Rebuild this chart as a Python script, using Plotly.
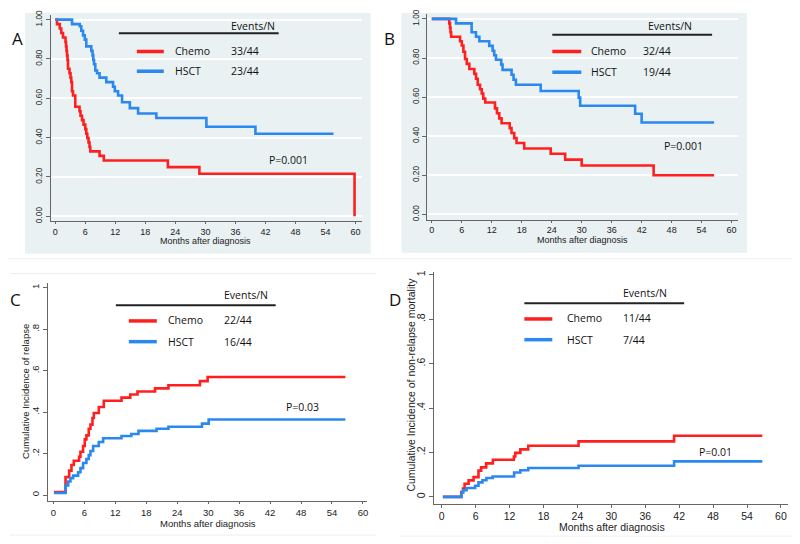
import plotly.graph_objects as go

# the page body has an 8px margin, so the figure is laid out in page pixels shifted by OFF
OFF = 8
W, H = 792, 536

# ---- data (months, probability) ----
months_ticks = [0, 6, 12, 18, 24, 30, 36, 42, 48, 54, 60]

# A: overall survival
a_chemo_t = [0, 0.35, 0.9, 1.2, 1.55, 2.05, 2.15, 2.25, 2.35, 2.45, 2.55, 2.85, 3.05, 3.2, 3.35, 3.55,
             4.0, 4.85, 5.05, 5.35, 5.65, 6.0, 6.2, 6.4, 6.65, 6.85, 7.0, 8.85, 9.7, 22.5, 28.8, 59.8]
a_chemo_s = [1.0, 0.977, 0.955, 0.932, 0.909, 0.886, 0.864, 0.841, 0.818, 0.795, 0.75, 0.727, 0.705, 0.682,
             0.636, 0.614, 0.557, 0.534, 0.511, 0.489, 0.466, 0.443, 0.42, 0.398, 0.375, 0.352, 0.33, 0.307,
             0.284, 0.25, 0.216, 0.0]
a_hsct_t = [0, 3.35, 4.9, 5.2, 5.55, 5.9, 6.2, 7.2, 7.45, 7.6, 7.75, 8.0, 8.35, 8.85, 10.2, 11.55, 11.9,
            12.55, 13.35, 14.9, 16.55, 20.2, 30.2, 40.0, 55.6]
a_hsct_s = [1.0, 0.977, 0.966, 0.943, 0.92, 0.898, 0.864, 0.841, 0.818, 0.795, 0.773, 0.741, 0.727, 0.705,
            0.682, 0.659, 0.636, 0.614, 0.58, 0.55, 0.523, 0.5, 0.455, 0.42, 0.42]

# B: event-free survival
b_chemo_t = [0, 3.5, 3.65, 3.75, 3.87, 5.66, 6.0, 6.33, 6.66, 7.0, 7.52, 8.52, 8.86, 9.2, 9.66, 10.0, 10.3,
             10.7, 12.65, 13.05, 13.5, 13.97, 15.6, 15.96, 16.5, 16.96, 18.5, 23.8, 26.7, 30.0, 44.4, 56.5]
b_chemo_s = [1.0, 0.977, 0.955, 0.932, 0.909, 0.886, 0.864, 0.832, 0.795, 0.77, 0.744, 0.719, 0.694, 0.663,
             0.64, 0.618, 0.592, 0.572, 0.542, 0.517, 0.491, 0.466, 0.441, 0.416, 0.39, 0.365, 0.337, 0.31,
             0.28, 0.25, 0.20, 0.20]
b_hsct_t = [0, 4.86, 7.98, 8.85, 9.52, 11.5, 12.18, 12.5, 12.85, 13.9, 14.17, 15.97, 16.37, 16.84, 21.8,
            29.4, 29.7, 40.7, 42.0, 56.5]
b_hsct_s = [1.0, 0.977, 0.932, 0.909, 0.886, 0.862, 0.837, 0.814, 0.791, 0.766, 0.739, 0.714, 0.689, 0.663,
            0.631, 0.597, 0.556, 0.515, 0.47, 0.47]

# C: cumulative incidence of relapse
c_chemo_t = [0.1, 2.35, 3.06, 3.5, 3.95, 4.98, 5.24, 5.75, 6.08, 6.4, 6.85, 7.18, 7.57, 7.83, 8.8, 9.77,
             13.2, 14.9, 16.3, 19.7, 22.3, 28.4, 29.9, 56.6]
c_chemo_s = [0.015, 0.087, 0.118, 0.145, 0.166, 0.185, 0.209, 0.237, 0.269, 0.288, 0.32, 0.34, 0.372, 0.396,
             0.425, 0.455, 0.47, 0.485, 0.5, 0.515, 0.53, 0.55, 0.57, 0.57]
c_hsct_t = [0.1, 2.35, 2.87, 3.3, 3.82, 4.79, 5.24, 5.75, 6.4, 6.85, 7.18, 7.7, 8.8, 9.64, 13.2, 15.1, 16.5,
            20.0, 22.3, 28.8, 30.1, 56.6]
c_hsct_s = [0.01, 0.047, 0.066, 0.082, 0.094, 0.11, 0.13, 0.155, 0.174, 0.193, 0.213, 0.237, 0.256, 0.274,
            0.285, 0.295, 0.31, 0.32, 0.33, 0.345, 0.365, 0.365]

# D: cumulative incidence of non-relapse mortality
d_chemo_t = [0.2, 3.45, 3.75, 4.04, 4.75, 5.63, 6.5, 6.97, 7.86, 9.04, 12.76, 13.0, 13.9, 15.3, 24.2, 41.1, 56.7]
d_chemo_s = [0.0, 0.022, 0.037, 0.059, 0.074, 0.089, 0.118, 0.133, 0.151, 0.167, 0.182, 0.198, 0.214, 0.23,
             0.25, 0.275, 0.275]
d_hsct_t = [0.2, 3.5, 3.8, 4.4, 5.9, 6.5, 7.2, 7.9, 9.0, 12.8, 13.9, 15.3, 24.2, 41.1, 56.7]
d_hsct_s = [0.0, 0.02, 0.03, 0.04, 0.05, 0.065, 0.075, 0.085, 0.092, 0.11, 0.12, 0.13, 0.14, 0.16, 0.16]

events = {'A': ('33/44', '23/44'), 'B': ('32/44', '19/44'), 'C': ('22/44', '16/44'), 'D': ('11/44', '7/44')}
pvalues = {'A': 'P=0.001', 'B': 'P=0.001', 'C': 'P=0.03', 'D': 'P=0.01'}

RED = '#ff1f1f'
BLUE = '#2b88ee'
AXC = '#666666'
TICKFONT = 'Liberation Sans, Arial, sans-serif'
LEGFONT = 'Open Sans, Noto Sans, sans-serif'


def px(x):
    return (x - OFF) / W


def py(y):
    return 1 - (y - OFF) / H


fig = go.Figure()

# panel geometry in page pixels: x-axis line (left, right), y-axis line (bottom, top), ranges, font sizes
panels = {
    'A': dict(ax='x', ay='y', xl=50.7, xr=362, yb=218.7, yt=10, xrange=[-0.92, 61.2], yrange=[-0.0236, 1.0236],
              fs=9, yfs=8.3, xtl=2, grid=True),
    'B': dict(ax='x2', ay='y2', xl=427.7, xr=739, yb=217.3, yt=9.5, xrange=[-0.92, 61.3], yrange=[-0.0268, 1.0227],
              fs=9, yfs=8.3, xtl=2, grid=True),
    'C': dict(ax='x3', ay='y3', xl=48.3, xr=367.7, yb=502.7, yt=282, xrange=[-1.0, 60.84], yrange=[-0.0295, 1.021],
              fs=9.5, yfs=9.5, xtl=2, grid=False),
    'D': dict(ax='x4', ay='y4', xl=435, xr=789.3, yb=505, yt=270, xrange=[-1.29, 61.3], yrange=[-0.03, 1.0148],
              fs=10.5, yfs=10.5, xtl=3, grid=False),
}

curves = {
    'A': ((a_chemo_t, a_chemo_s), (a_hsct_t, a_hsct_s)),
    'B': ((b_chemo_t, b_chemo_s), (b_hsct_t, b_hsct_s)),
    'C': ((c_chemo_t, c_chemo_s), (c_hsct_t, c_hsct_s)),
    'D': ((d_chemo_t, d_chemo_s), (d_hsct_t, d_hsct_s)),
}

for key, p in panels.items():
    (ct, cs), (ht, hs) = curves[key]
    fig.add_trace(go.Scatter(x=ct, y=cs, mode='lines', line=dict(color=RED, width=2.6, shape='hv'),
                             xaxis=p['ax'], yaxis=p['ay'], showlegend=False, hoverinfo='skip'))
    fig.add_trace(go.Scatter(x=ht, y=hs, mode='lines', line=dict(color=BLUE, width=2.6, shape='hv'),
                             xaxis=p['ax'], yaxis=p['ay'], showlegend=False, hoverinfo='skip'))

layout_axes = {}
for key, p in panels.items():
    xname = 'xaxis' + p['ax'][1:]
    yname = 'yaxis' + p['ay'][1:]
    layout_axes[xname] = dict(domain=[px(p['xl']), px(p['xr'])], range=p['xrange'], anchor=p['ay'],
                              showline=True, linecolor=AXC, linewidth=1, ticks='outside', ticklen=p['xtl'],
                              tickcolor=AXC, tickvals=months_ticks,
                              tickfont=dict(family=TICKFONT, size=p['fs'], color='#222'), showgrid=False,
                              zeroline=False, fixedrange=True)
    if p['grid']:
        yt = dict(tickvals=[0, 0.2, 0.4, 0.6, 0.8, 1.0], ticktext=['0.00', '0.20', '0.40', '0.60', '0.80', '1.00'])
    else:
        yt = dict(tickvals=[0, 0.2, 0.4, 0.6, 0.8, 1.0], ticktext=['0', '.2', '.4', '.6', '.8', '1'])
    layout_axes[yname] = dict(domain=[py(p['yb']), py(p['yt'])], range=p['yrange'], anchor=p['ax'],
                              showline=True, linecolor=AXC, linewidth=1, ticks='outside', ticklen=4,
                              tickcolor=AXC, tickfont=dict(family=TICKFONT, size=p['yfs'], color='#222'),
                              tickangle=-90, ticklabeloverflow='allow', showgrid=p['grid'],
                              gridcolor='white', gridwidth=1.6, zeroline=False, fixedrange=True, **yt)

shapes = [
    # Stata graph region backgrounds for A and B
    dict(type='rect', xref='paper', yref='paper', x0=px(25), x1=px(371), y0=py(252), y1=py(OFF),
         fillcolor='#eaf1f3', line=dict(width=0), layer='below'),
    dict(type='rect', xref='paper', yref='paper', x0=px(402), x1=px(748), y0=py(251), y1=py(OFF),
         fillcolor='#eaf1f3', line=dict(width=0), layer='below'),
    # faint separators
    dict(type='line', xref='paper', yref='paper', x0=px(OFF), x1=px(800), y0=py(257), y1=py(257),
         line=dict(color='#f0f0f0', width=1)),
    dict(type='line', xref='paper', yref='paper', x0=px(10), x1=px(377), y0=py(272), y1=py(272),
         line=dict(color='#eeeeee', width=1)),
    dict(type='line', xref='paper', yref='paper', x0=px(10), x1=px(377), y0=py(537), y1=py(537),
         line=dict(color='#eeeeee', width=1)),
    dict(type='line', xref='paper', yref='paper', x0=px(400), x1=px(800), y0=py(538), y1=py(538),
         line=dict(color='#f2f2f2', width=1)),
]

annotations = []

# hand-drawn legend tables: (black line x0, x1, y), (coloured line x0, x1), Events/N x, name x, count x,
# red y, blue y, events y, p-value (x, y), panel letter (left x, y)
legends = {
    'A': dict(bl=(119, 279, 28.5), cl=(137, 164), ex=229, nx=173, cx=229, ry=47, by=67, ey=21,
              p=(267, 157), letter=(10, 34)),
    'B': dict(bl=(553, 713, 30), cl=(553, 582), ex=647, nx=590, cx=642, ry=47, by=68, ey=21,
              p=(663, 143), letter=(382, 34)),
    'C': dict(bl=(116, 276, 304), cl=(129, 157), ex=222, nx=166, cx=222, ry=320, by=341, ey=294,
              p=(284, 407), letter=(8, 298)),
    'D': dict(bl=(525, 685, 302), cl=(525, 553), ex=622, nx=566, cx=622, ry=318, by=339, ey=292,
              p=(698, 453), letter=(387, 298)),
}

lf = dict(family=LEGFONT, size=10.5, color='#111')
for key, lg in legends.items():
    x0, x1, yb = lg['bl']
    shapes.append(dict(type='line', xref='paper', yref='paper', x0=px(x0), x1=px(x1), y0=py(yb), y1=py(yb),
                       line=dict(color='#222', width=2)))
    c0, c1 = lg['cl']
    shapes.append(dict(type='line', xref='paper', yref='paper', x0=px(c0), x1=px(c1), y0=py(lg['ry']),
                       y1=py(lg['ry']), line=dict(color=RED, width=3.5)))
    shapes.append(dict(type='line', xref='paper', yref='paper', x0=px(c0), x1=px(c1), y0=py(lg['by']),
                       y1=py(lg['by']), line=dict(color=BLUE, width=3.5)))
    texts = [('Events/N', lg['ex'], lg['ey']), ('Chemo', lg['nx'], lg['ry'] - 1),
             (events[key][0], lg['cx'], lg['ry'] - 1), ('HSCT', lg['nx'], lg['by']),
             (events[key][1], lg['cx'], lg['by']), (pvalues[key], lg['p'][0], lg['p'][1])]
    for txt, tx, ty in texts:
        annotations.append(dict(text=txt, x=px(tx), y=py(ty), xref='paper', yref='paper', xanchor='left',
                                yanchor='middle', showarrow=False, font=lf))
    annotations.append(dict(text=key, x=px(lg['letter'][0]), y=py(lg['letter'][1]), xref='paper', yref='paper',
                            xanchor='left', yanchor='middle', showarrow=False,
                            font=dict(family=LEGFONT, size=17, color='#111')))

# axis titles
xtitles = [(206, 239.5, 9), (583, 238.5, 9), (208, 525, 9.5), (613, 529, 10.5)]
for tx, ty, fs in xtitles:
    annotations.append(dict(text='Months after diagnosis', x=px(tx), y=py(ty), xref='paper', yref='paper',
                            xanchor='center', yanchor='middle', showarrow=False,
                            font=dict(family=TICKFONT, size=fs, color='#222')))
ytitles = [('Cumulative Incidence of relapse', 26, 391, 9.5),
           ('Cumulative Incidence of non-relapse mortality', 412, 384, 10.5)]
for txt, tx, ty, fs in ytitles:
    annotations.append(dict(text=txt, x=px(tx), y=py(ty), xref='paper', yref='paper', textangle=-90,
                            xanchor='center', yanchor='middle', showarrow=False,
                            font=dict(family=TICKFONT, size=fs, color='#222')))

fig.update_layout(width=W, height=H, margin=dict(l=0, r=0, t=0, b=0), paper_bgcolor='white',
                  plot_bgcolor='rgba(0,0,0,0)', shapes=shapes, annotations=annotations, **layout_axes)

fig.write_html("out.html")
